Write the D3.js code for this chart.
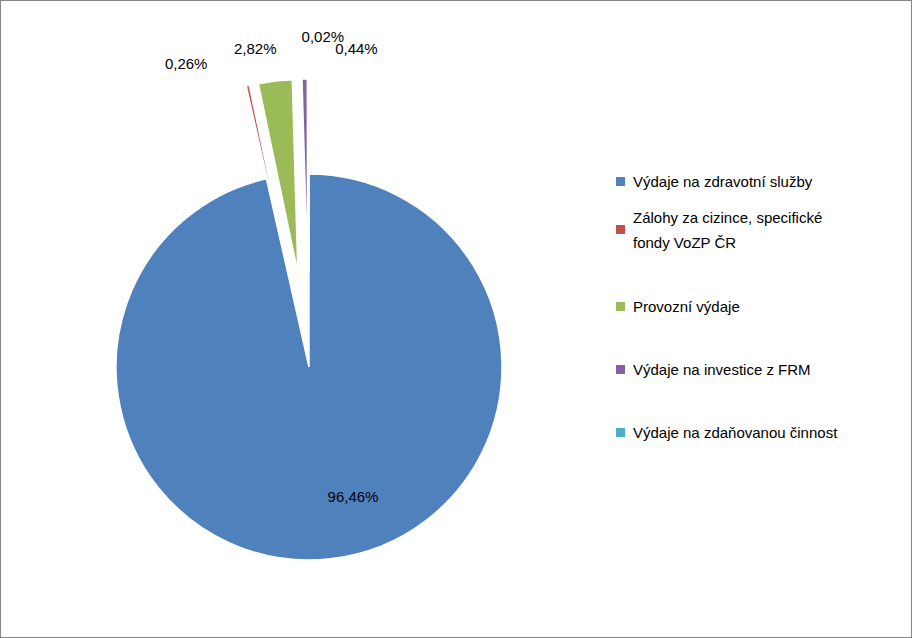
<!DOCTYPE html>
<html><head><meta charset="utf-8">
<script src="https://cdn.jsdelivr.net/npm/d3@7"></script>
<style>body{margin:0;background:#fff}</style>
</head><body><div id="chart"></div>
<script>
var categories = ["Výdaje na zdravotní služby", "Zálohy za cizince, specifické fondy VoZP ČR", "Provozní výdaje", "Výdaje na investice z FRM", "Výdaje na zdaňovanou činnost"];
var values = [96.46, 0.26, 2.82, 0.44, 0.02];
var labels = ["96,46%", "0,26%", "2,82%", "0,44%", "0,02%"];
var colors = ["#4f81bd", "#c0504d", "#9bbb59", "#8064a2", "#4bacc6"];
var explode = [0, 95, 95, 95, 95];

var width = 912, height = 638;
var radius = 193;
var center = {x: 309, y: 367};

var svg = d3.select("#chart").append("svg")
    .attr("width", width).attr("height", height);

svg.append("rect")
    .attr("x", 0.5).attr("y", 0.5)
    .attr("width", width - 1).attr("height", height - 1)
    .attr("fill", "#fff").attr("stroke", "#868686");

var pie = d3.pie().sort(null);
var arcs = pie(values);
var arc = d3.arc().innerRadius(0).outerRadius(radius);

var g = svg.append("g").attr("transform", "translate(" + center.x + "," + center.y + ")");

function shift(d, i) {
    var a = (d.startAngle + d.endAngle) / 2;
    return [Math.sin(a) * explode[i], -Math.cos(a) * explode[i]];
}

g.selectAll("path").data(arcs).enter().append("path")
    .attr("d", arc)
    .attr("transform", function(d, i) { var s = shift(d, i); return "translate(" + s[0] + "," + s[1] + ")"; })
    .attr("fill", function(d, i) { return colors[i]; })
    .attr("stroke", "#fff").attr("stroke-width", 1.5);

// label offsets (Excel's best-fit placement)
var labelPos = [
    function(d) { return [Math.sin(2.3) * 0 + 45, 130]; },
    null, null, null, null
];
var outer = d3.arc().innerRadius(radius + 112).outerRadius(radius + 112);
var nudge = [[0, 0], [-58, 0], [-18, -10], [52, -8], [14, -20]];
g.selectAll("text.lbl").data(arcs).enter().append("text")
    .attr("class", "lbl")
    .attr("x", function(d, i) { return i === 0 ? 44 : outer.centroid(d)[0] + nudge[i][0]; })
    .attr("y", function(d, i) { return i === 0 ? 135 : outer.centroid(d)[1] + nudge[i][1]; })
    .attr("text-anchor", "middle")
    .attr("font-family", "Liberation Sans, Arial, sans-serif")
    .attr("font-size", 15)
    .attr("fill", "#000")
    .text(function(d, i) { return labels[i]; });

// legend
var legendY = [182, 230, 307, 370, 433];
var legend = svg.append("g").attr("font-family", "Liberation Sans, Arial, sans-serif").attr("font-size", 15);
categories.forEach(function(c, i) {
    legend.append("rect").attr("x", 616).attr("y", legendY[i] - 5).attr("width", 9).attr("height", 9).attr("fill", colors[i]);
    var t = legend.append("text").attr("x", 633).attr("y", legendY[i] + 5);
    if (i === 1) {
        t.append("tspan").attr("x", 633).text("Zálohy za cizince, specifické");
        t.append("tspan").attr("x", 633).attr("dy", 25).text("fondy VoZP ČR");
        t.attr("y", legendY[i] - 12 + 5);
        t.select("tspan").attr("y", legendY[i] - 12 + 5 + 0);
    } else {
        t.text(c);
    }
});
</script></body></html>
